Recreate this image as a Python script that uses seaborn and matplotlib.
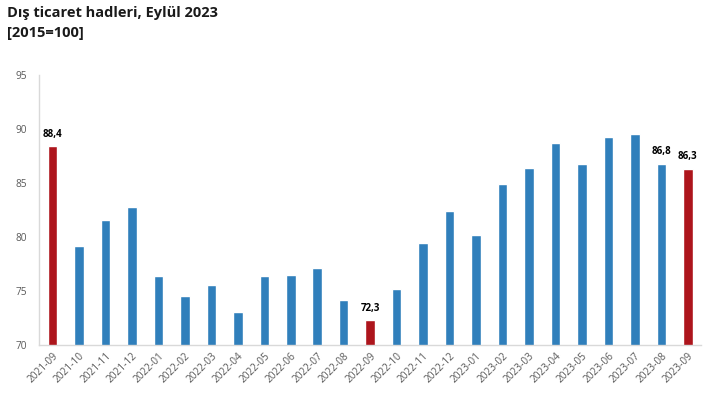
import numpy as np
import pandas as pd
import seaborn as sns
import matplotlib.pyplot as plt

# months shown on the x axis
months = ['2021-09', '2021-10', '2021-11', '2021-12',
          '2022-01', '2022-02', '2022-03', '2022-04', '2022-05', '2022-06',
          '2022-07', '2022-08', '2022-09', '2022-10', '2022-11', '2022-12',
          '2023-01', '2023-02', '2023-03', '2023-04', '2023-05', '2023-06',
          '2023-07', '2023-08', '2023-09']
# terms of trade index (2015=100)
values = [88.4, 79.2, 81.6, 82.8,
          76.4, 74.5, 75.6, 73.1, 76.4, 76.5,
          77.1, 74.2, 72.3, 75.2, 79.4, 82.4,
          80.2, 84.9, 86.4, 88.7, 86.8, 89.3,
          89.5, 86.8, 86.3]
# months highlighted in red
red_months = ['2021-09', '2022-09', '2023-09']
# months with a value label
labeled_months = ['2021-09', '2022-09', '2023-08', '2023-09']

df = pd.DataFrame({'month': months, 'value': values})

sns.set_style('white')
plt.rcParams['font.family'] = ['Open Sans', 'DejaVu Sans']

blue = '#307fbb'
red = '#ad151c'
colors = {m: (red if m in red_months else blue) for m in months}

fig = plt.figure(figsize=(7.17, 4.2), dpi=100)
ax = fig.add_axes([0.0548, 0.1786, 0.9229, 0.6428])

sns.barplot(data=df, x='month', y='value', hue='month', palette=colors,
            width=0.36, legend=False, saturation=1, ax=ax)

ax.set_ylim(70, 95)
ax.set_xlim(-0.5, 24.5)
ax.set_yticks([70, 75, 80, 85, 90, 95])
ax.set_xlabel('')
ax.set_ylabel('')

for s in ['top', 'right']:
    ax.spines[s].set_visible(False)
for s in ['left', 'bottom']:
    ax.spines[s].set_color('#d9d9d9')
    ax.spines[s].set_linewidth(1)

ax.tick_params(axis='both', length=0, colors='#595959', labelsize=7.3)
ax.tick_params(axis='y', pad=9)
ax.tick_params(axis='x', pad=4)
plt.setp(ax.get_xticklabels(), rotation=45, ha='right', rotation_mode='anchor')

for i, (m, v) in enumerate(zip(months, values)):
    if m in labeled_months:
        ax.text(i, v + 0.6, f'{v:.1f}'.replace('.', ','), ha='center', va='bottom',
                fontsize=7, fontweight='bold', color='black')

fig.text(0.0098, 0.968, 'Dış ticaret hadleri, Eylül 2023', fontsize=10.5,
         fontweight='bold', color='#1a1a1a', va='center')
fig.text(0.0098, 0.921, '[2015=100]', fontsize=10.5,
         fontweight='bold', color='#1a1a1a', va='center')

fig.savefig('out.png', dpi=100)
